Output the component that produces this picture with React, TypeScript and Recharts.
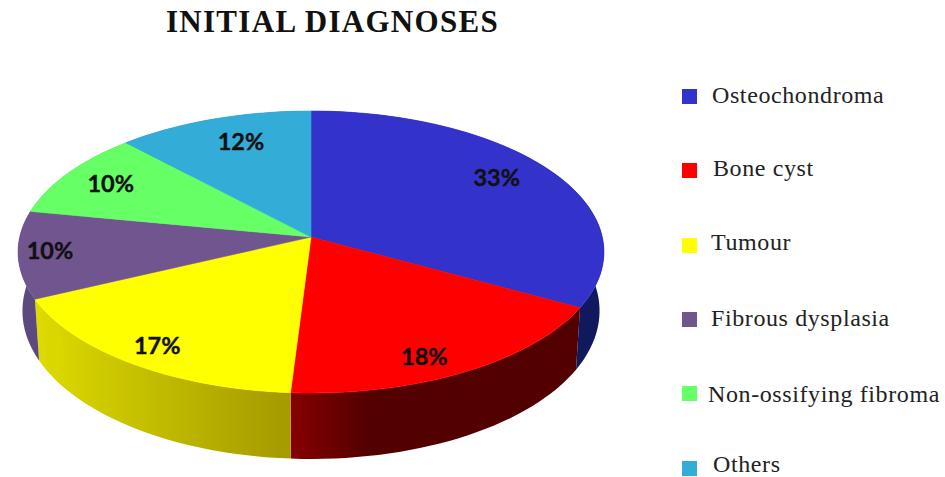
import { PieChart, Pie, Legend } from 'recharts';

const categories = ['Osteochondroma', 'Bone cyst', 'Tumour', 'Fibrous dysplasia', 'Non-ossifying fibroma', 'Others'];
const shares = [33, 18, 17, 10, 10, 12];
const topColors = ['#3333CC', '#FF0000', '#FFFF00', '#70558F', '#66FF66', '#33ADD8'];
// left and right ends of the horizontal shading on each side wall
const wallColors = [
    ['#10185E', '#10185E'],
    ['#8E0000', '#520000'],
    ['#DEDC00', '#A69C00'],
    ['#5C4A7E', '#5C4A7E'],
    ['#3FA03F', '#3FA03F'],
    ['#1F6C88', '#1F6C88'],
];
const wallRange = [
    [280, 605],
    [279, 370],
    [32, 280],
    [18, 40],
    [18, 140],
    [120, 320],
];

const slices = categories.map((name, i) => ({ name, value: shares[i], fill: topColors[i] }));
const walls = categories.map((name, i) => ({ name, value: shares[i], fill: `url(#wall-${i})` }));

// legend rows: swatch centre y, text x, text baseline y
const legendRows = [
    [96, 712, 103],
    [170, 713, 176],
    [245, 711, 250],
    [319, 711, 326],
    [393, 708, 402],
    [468, 713, 471.5],
];
const labelNudge = [
    [12, -11],
    [5, 25],
    [-28, 19],
    [-51, 0],
    [-23, -7],
    [2, -9],
];

const TILT = 0.4785;
const PERSPECTIVE = 0.1063;
const LABEL_RADIUS = 0.72;

// Rim point of the tilted disc, angle in Recharts degrees, f = fraction of radius.
function project(p: any, angle: number, f = 1) {
    const rad = ((90 - angle) * Math.PI) / 180;
    const u = f * Math.sin(rad);
    const w = -f * Math.cos(rad);
    const d = 1 - PERSPECTIVE * w;
    return {
        x: p.cx + (p.outerRadius * u) / d,
        y: p.cy + (p.outerRadius * TILT * w) / d,
        w,
    };
}

function rimPoints(p: any) {
    const steps = Math.max(2, Math.ceil(Math.abs(p.endAngle - p.startAngle) / 2));
    const pts = [];
    for (let i = 0; i <= steps; i++) {
        pts.push(project(p, p.startAngle + ((p.endAngle - p.startAngle) * i) / steps));
    }
    return pts;
}

const toPath = (pts: { x: number; y: number }[]) =>
    pts.map((q, i) => `${i ? 'L' : 'M'}${q.x.toFixed(2)} ${q.y.toFixed(2)}`).join(' ') + ' Z';

function TopSlice(props: any) {
    const d = toPath([{ x: props.cx, y: props.cy }, ...rimPoints(props)]);
    return <path d={d} fill={props.fill} stroke={props.fill} strokeWidth={0.6} />;
}

function WallSlice(props: any) {
    const rim = rimPoints(props);
    const lower = rim
        .map((q) => ({
            x: props.cx + (q.x - props.cx) * 0.985,
            y: q.y + 58 + 8 * q.w,
        }))
        .reverse();
    return <path d={toPath([...rim, ...lower])} fill={props.fill} />;
}

function PercentLabel(props: any) {
    const pt = project(props, props.midAngle, LABEL_RADIUS);
    const [dx, dy] = labelNudge[props.index];
    return (
        <text
            x={pt.x + dx}
            y={pt.y + dy}
            textAnchor="middle"
            dominantBaseline="central"
            fill="#111"
            stroke="#111"
            strokeWidth={0.4}
            fontFamily="Lato, sans-serif"
            fontWeight={700}
            fontSize={23.5}
        >
            {props.value}%
        </text>
    );
}

function LegendRows() {
    return (
        <svg style={{ display: 'block' }} width={945} height={477}>
            {categories.map((name, i) => (
                <g key={name}>
                    <rect x={682} y={legendRows[i][0] - 7} width={15} height={15} fill={topColors[i]} />
                    <text
                        x={legendRows[i][1]}
                        y={legendRows[i][2]}
                        fontFamily="'Liberation Serif', serif"
                        fontSize={24}
                        letterSpacing={0.6}
                        fill="#222"
                    >
                        {name}
                    </text>
                </g>
            ))}
        </svg>
    );
}

export default function App() {
    return (
        <div style={{ position: 'absolute', left: 0, top: 0, width: 945, height: 477, background: '#fff', overflow: 'hidden' }}>
            <PieChart width={945} height={477} margin={{ top: 0, right: 0, bottom: 0, left: 0 }}>
                <defs>
                    {wallColors.map((c, i) => (
                        <linearGradient
                            key={i}
                            id={`wall-${i}`}
                            gradientUnits="userSpaceOnUse"
                            x1={wallRange[i][0]}
                            x2={wallRange[i][1]}
                            y1={0}
                            y2={0}
                        >
                            <stop offset="0%" stopColor={c[0]} />
                            <stop offset="100%" stopColor={c[1]} />
                        </linearGradient>
                    ))}
                </defs>
                <text
                    x={332.5}
                    y={32}
                    textAnchor="middle"
                    fontFamily="'Liberation Serif', serif"
                    fontWeight={700}
                    fontSize={31}
                    letterSpacing={1.3}
                    fill="#111"
                >
                    INITIAL DIAGNOSES
                </text>
                {/* side walls go first so the top surface covers their back half */}
                <Pie
                    data={walls}
                    dataKey="value"
                    nameKey="name"
                    cx={311}
                    cy={237}
                    innerRadius={0}
                    outerRadius={291.3}
                    startAngle={90}
                    endAngle={-270}
                    stroke="none"
                    legendType="none"
                    shape={WallSlice}
                    isAnimationActive={false}
                />
                <Pie
                    data={slices}
                    dataKey="value"
                    nameKey="name"
                    cx={311}
                    cy={237}
                    innerRadius={0}
                    outerRadius={291.3}
                    startAngle={90}
                    endAngle={-270}
                    stroke="none"
                    shape={TopSlice}
                    label={PercentLabel}
                    labelLine={false}
                    isAnimationActive={false}
                />
                <Legend
                    content={LegendRows}
                    wrapperStyle={{ position: 'absolute', left: 0, top: 0, width: 945, height: 477, pointerEvents: 'none' }}
                />
            </PieChart>
        </div>
    );
}
